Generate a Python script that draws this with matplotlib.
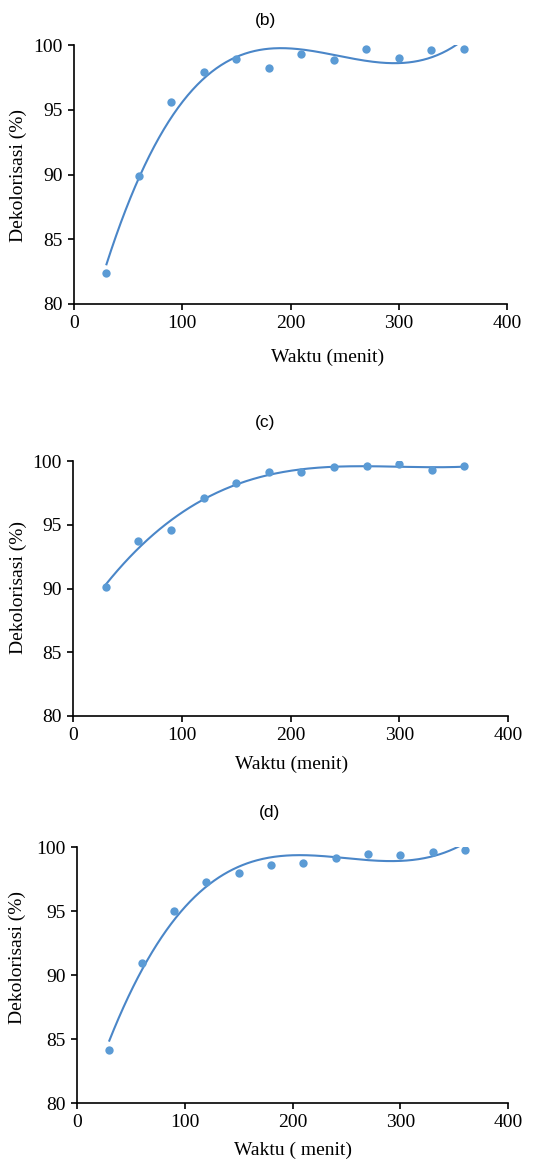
import numpy as np
import matplotlib
matplotlib.use("Agg")
import matplotlib.pyplot as plt

# data (Waktu in menit, Dekolorisasi in %)
waktu = [30, 60, 90, 120, 150, 180, 210, 240, 270, 300, 330, 360]
dekol_b = [82.42, 89.88, 95.62, 97.92, 98.94, 98.20, 99.33, 98.87, 99.69, 98.97, 99.61, 99.72]
dekol_c = [90.14, 93.75, 94.61, 97.12, 98.27, 99.11, 99.16, 99.50, 99.58, 99.76, 99.29, 99.63]
dekol_d = [84.16, 90.96, 95.01, 97.27, 97.95, 98.60, 98.78, 99.12, 99.48, 99.40, 99.61, 99.77]

panel_titles = ["(b)", "(c)", "(d)"]
xlabels = ["Waktu (menit)", "Waktu (menit)", "Waktu ( menit)"]

W, H = 543, 1162
# pixel boxes: left, top, right, bottom
boxes = [(74, 45, 507, 304), (73, 461, 508, 716), (77, 847, 508, 1103)]
title_pos = [(266, 20), (265, 423), (269, 813)]
xlabel_pos = [(328, 357), (292, 764), (293, 1150)]
ylabel_pos = [(18, 175), (18, 588), (17, 957)]

point_color = "#5B9BD5"
line_color = "#4A86C8"
serif = "Liberation Serif"

fig = plt.figure(figsize=(W / 100, H / 100), dpi=100)

for i, ys in enumerate([dekol_b, dekol_c, dekol_d]):
    l, t, r, b = boxes[i]
    ax = fig.add_axes([l / W, 1 - b / H, (r - l) / W, (b - t) / H])

    # cubic trendline like Excel's polynomial fit
    coef = np.polyfit(waktu, ys, 3)
    xs = np.linspace(waktu[0], waktu[-1], 300)
    ax.plot(xs, np.polyval(coef, xs), color=line_color, lw=1.5, zorder=2)
    ax.scatter(waktu, ys, s=36, color=point_color, zorder=3, linewidths=0)

    ax.set_xlim(0, 400)
    ax.set_ylim(80, 100)
    ax.set_xticks([0, 100, 200, 300, 400])
    ax.set_yticks([80, 85, 90, 95, 100])
    for s in ["top", "right"]:
        ax.spines[s].set_visible(False)
    for s in ["left", "bottom"]:
        ax.spines[s].set_linewidth(1.2)
    ax.tick_params(direction="out", length=4, width=1.2, labelsize=14, pad=4)
    for lab in ax.get_xticklabels() + ax.get_yticklabels():
        lab.set_fontfamily(serif)

    fig.text(title_pos[i][0] / W, 1 - title_pos[i][1] / H, panel_titles[i],
             ha="center", va="center", fontsize=12.5, family="Liberation Sans")
    fig.text(xlabel_pos[i][0] / W, 1 - xlabel_pos[i][1] / H, xlabels[i],
             ha="center", va="center", fontsize=14, family=serif)
    fig.text(ylabel_pos[i][0] / W, 1 - ylabel_pos[i][1] / H, "Dekolorisasi (%)",
             ha="center", va="center", rotation=90, fontsize=14, family=serif)

fig.savefig("out.png", dpi=100)
